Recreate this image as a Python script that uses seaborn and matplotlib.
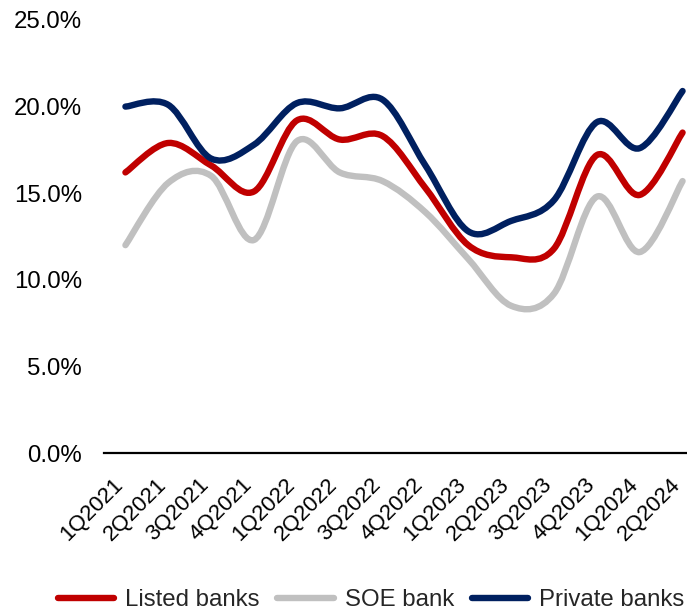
import numpy as np
import pandas as pd
import matplotlib
matplotlib.use("Agg")
import matplotlib.pyplot as plt
import matplotlib.transforms as mtransforms
from matplotlib.path import Path
from matplotlib.patches import PathPatch
import seaborn as sns

quarters = ["1Q2021", "2Q2021", "3Q2021", "4Q2021", "1Q2022", "2Q2022", "3Q2022",
            "4Q2022", "1Q2023", "2Q2023", "3Q2023", "4Q2023", "1Q2024", "2Q2024"]
listed_banks = [16.2, 17.9, 16.6, 15.1, 19.2, 18.1, 18.3, 15.3, 12.0, 11.3, 11.8, 17.2, 14.9, 18.5]
soe_bank = [12.0, 15.6, 16.0, 12.3, 18.0, 16.2, 15.7, 13.9, 11.2, 8.5, 9.2, 14.8, 11.6, 15.7]
private_banks = [20.0, 20.1, 17.0, 17.8, 20.2, 19.9, 20.4, 16.6, 12.8, 13.4, 14.6, 19.1, 17.6, 20.9]
series_names = ["Listed banks", "SOE bank", "Private banks"]
yticks = [0, 5, 10, 15, 20, 25]

colors = {"Listed banks": "#C00000", "SOE bank": "#C0C0C0", "Private banks": "#002060"}

sns.set_theme(style="white")
plt.rcParams["font.family"] = ["Liberation Sans", "DejaVu Sans"]
FS = 17.3
FS_X = 16.0
LW = 4.6

pos = np.arange(len(quarters))
df = pd.concat([
    pd.DataFrame({"pos": pos, "value": vals, "series": name})
    for name, vals in zip(series_names, [listed_banks, soe_bank, private_banks])
], ignore_index=True)

fig = plt.figure(figsize=(6.87, 6.12), dpi=100)
ax = fig.add_axes([104 / 687, 159 / 612, 600 / 687, 433 / 612])

sns.lineplot(data=df, x="pos", y="value", hue="series", hue_order=series_names,
             palette=colors, linewidth=LW, ax=ax, legend=True)


def smooth_path(x, y):
    """Cubic Bezier through every point (Catmull-Rom tangents)."""
    pts = np.column_stack([x, y])
    n = len(pts)
    verts = [pts[0]]
    codes = [Path.MOVETO]
    for i in range(n - 1):
        p_prev = pts[max(i - 1, 0)]
        p0, p1 = pts[i], pts[i + 1]
        p_next = pts[min(i + 2, n - 1)]
        c1 = p0 + (p1 - p_prev) / 6.0
        c2 = p1 - (p_next - p0) / 6.0
        verts += [c1, c2, p1]
        codes += [Path.CURVE4] * 3
    return Path(verts, codes)


# replace the straight segments with smoothed curves of the same data
for line in list(ax.lines):
    xd, yd = line.get_xdata(), line.get_ydata()
    if len(xd) < 2:
        continue
    patch = PathPatch(smooth_path(np.asarray(xd, float), np.asarray(yd, float)),
                      facecolor="none", edgecolor=line.get_color(), lw=LW,
                      capstyle="round", joinstyle="round", zorder=line.get_zorder())
    ax.add_patch(patch)
    line.set_visible(False)

ax.set_xlim(-0.5, len(quarters) - 0.5)
ax.set_ylim(0, 25)
ax.set_yticks(yticks)
ax.set_yticklabels([f"{v:.1f}%" for v in yticks], fontsize=FS, color="black")
ax.set_xticks(pos)
ax.set_xticklabels(quarters, fontsize=FS_X, rotation=45, ha="right",
                   rotation_mode="anchor", va="top", color="black")
ax.tick_params(axis="y", length=0, pad=16)
ax.tick_params(axis="x", length=0, pad=15)

# nudge the rotated quarter labels left so the last one stays inside the figure
shift = mtransforms.ScaledTranslation(-9 / 72, 0, fig.dpi_scale_trans)
for lbl in ax.get_xticklabels():
    lbl.set_transform(lbl.get_transform() + shift)

ax.set_xlabel("")
ax.set_ylabel("")
for side in ["top", "right", "left"]:
    ax.spines[side].set_visible(False)
ax.spines["bottom"].set_color("black")
ax.spines["bottom"].set_linewidth(1.6)

sns.move_legend(ax, loc="center", bbox_to_anchor=(371 / 687, 12 / 612),
                bbox_transform=fig.transFigure, ncol=3, frameon=False,
                fontsize=FS, handlelength=2.35, handletextpad=0.45,
                columnspacing=0.75, borderpad=0, title=None)
for h in ax.get_legend().get_lines():
    h.set_linewidth(LW)
    h.set_solid_capstyle("round")

fig.savefig("out.png", dpi=100)
